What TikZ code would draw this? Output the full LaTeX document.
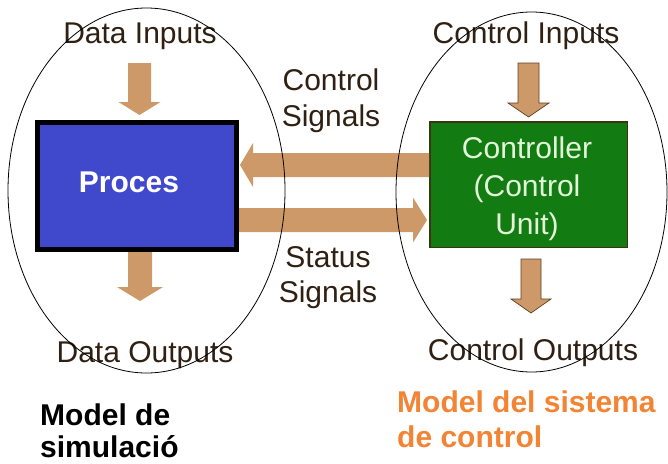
\documentclass[tikz,border=0pt]{standalone}
\usepackage{fontspec}
\setmainfont{Liberation Sans}
\usetikzlibrary{calc}

\definecolor{arrowtan}{RGB}{205,153,104}
\definecolor{arrowedge}{RGB}{95,65,35}
\definecolor{labelbrown}{RGB}{48,32,18}
\definecolor{procblue}{RGB}{64,72,204}
\definecolor{ctrlgreen}{RGB}{18,124,18}
\definecolor{ctrltext}{RGB}{228,246,218}
\definecolor{ctrledge}{RGB}{60,50,20}
\definecolor{modelorange}{RGB}{242,132,52}

% block arrow from a named start to a named tip:
% #1 style, #2 start, #3 tip, #4 half shaft width, #5 half head width, #6 head length
\newcommand\blockarrow[6][]{%
  \path ($(#3)!#6!(#2)$) coordinate (headbase);
  \path[#1] ($(#2)!#4!90:(#3)$) -- ($(headbase)!#4!-90:(#2)$)
    -- ($(headbase)!#5!-90:(#2)$) -- (#3) -- ($(headbase)!#5!90:(#2)$)
    -- ($(headbase)!#4!90:(#2)$) -- ($(#2)!#4!-90:(#3)$) -- cycle;
}

\tikzset{
  lbl/.style={text=labelbrown, inner sep=0pt, anchor=base,
    font=\fontsize{30}{36}\selectfont, align=center},
  fatplain/.style={fill=arrowtan},
  fatedged/.style={fill=arrowtan, draw=arrowedge, line width=0.7pt, line join=miter},
  procbox/.style={rectangle, draw=black, line width=5pt, fill=procblue,
    minimum width=199pt, minimum height=127pt, inner sep=0pt},
  ctrlbox/.style={rectangle, draw=ctrledge, line width=1.5pt, fill=ctrlgreen,
    minimum width=197.5pt, minimum height=125.5pt, inner sep=0pt},
  modelbox/.style={draw=black, line width=0.8pt},
}

\begin{document}
\begin{tikzpicture}[x=1pt, y=-1pt]
  \useasboundingbox (0,0) rectangle (668,463);
  \fill[white] (0,0) rectangle (668,463);

  % the two blocks
  \node[procbox] (proc) at (137,186) {};
  \node[text=white, inner sep=0pt, anchor=base,
        font=\fontsize{30}{36}\selectfont\bfseries] (proclbl) at (129,192) {Proces};
  \node[ctrlbox] (ctrl) at (528.5,184.5) {};
  % multi-line nodes: base anchor sits on the last line
  \node[text=ctrltext, inner sep=0pt, anchor=base, align=center,
        font=\fontsize{30}{38}\selectfont] (ctrllbl) at (527,234)
        {Controller\\(Control\\Unit)};

  % arrow ends
  \coordinate (din)  at (139.5,63);
  \coordinate (dinT) at (139.5,115);
  \coordinate (doutT) at (140,301);
  \coordinate (cin)  at (528.5,63);
  \coordinate (cinT) at (528.5,117);
  \coordinate (coutS) at (531,259);
  \coordinate (coutT) at (531,313);
  \coordinate (csigS) at (ctrl.west |- 0,165);
  \coordinate (csigT) at (240,165);
  \coordinate (ssigS) at (proc.east |- 0,220);
  \coordinate (ssigT) at (427,220);
  \coordinate (doutS) at (proc.south -| doutT);

  \blockarrow[fatplain]{din}{dinT}{11.5pt}{21pt}{13pt}
  \blockarrow[fatplain]{doutS}{doutT}{12pt}{23pt}{14pt}
  \blockarrow[fatedged]{cin}{cinT}{10.5pt}{20.5pt}{14pt}
  \blockarrow[fatedged]{coutS}{coutT}{10pt}{20pt}{14pt}
  \blockarrow[fatplain]{csigS}{csigT}{12pt}{22pt}{13pt}
  \blockarrow[fatplain]{ssigS}{ssigT}{12pt}{22.5pt}{14pt}

  % labels
  \node[lbl] (datain)  at (140,43)  {Data Inputs};
  \node[lbl] (ctrlin)  at (526,43)  {Control Inputs};
  \node[lbl, font=\fontsize{30}{36}\selectfont] (csiglbl) at (331,126) {Control\\Signals};
  \node[lbl, font=\fontsize{30}{35}\selectfont] (ssiglbl) at (328,302) {Status\\Signals};
  \node[lbl] (dataout) at (145,362) {Data Outputs};
  \node[lbl] (ctrlout) at (533,360) {Control Outputs};

  % model captions
  \node[inner sep=0pt, anchor=base west, align=left, text=black,
        font=\fontsize{30}{32}\selectfont\bfseries] (simmodel) at (40,457)
        {Model de\\simulació};
  \node[inner sep=0pt, anchor=base west, align=left, text=modelorange,
        font=\fontsize{30}{35}\selectfont\bfseries] (ctrlmodel) at (397,447)
        {Model del sistema\\de control};

  % model boundaries
  \draw[modelbox] (146.5,190.5) ellipse [x radius=138.5, y radius=182.5];
  \draw[modelbox] (531.5,192) ellipse [x radius=135.5, y radius=180];
\end{tikzpicture}
\end{document}
